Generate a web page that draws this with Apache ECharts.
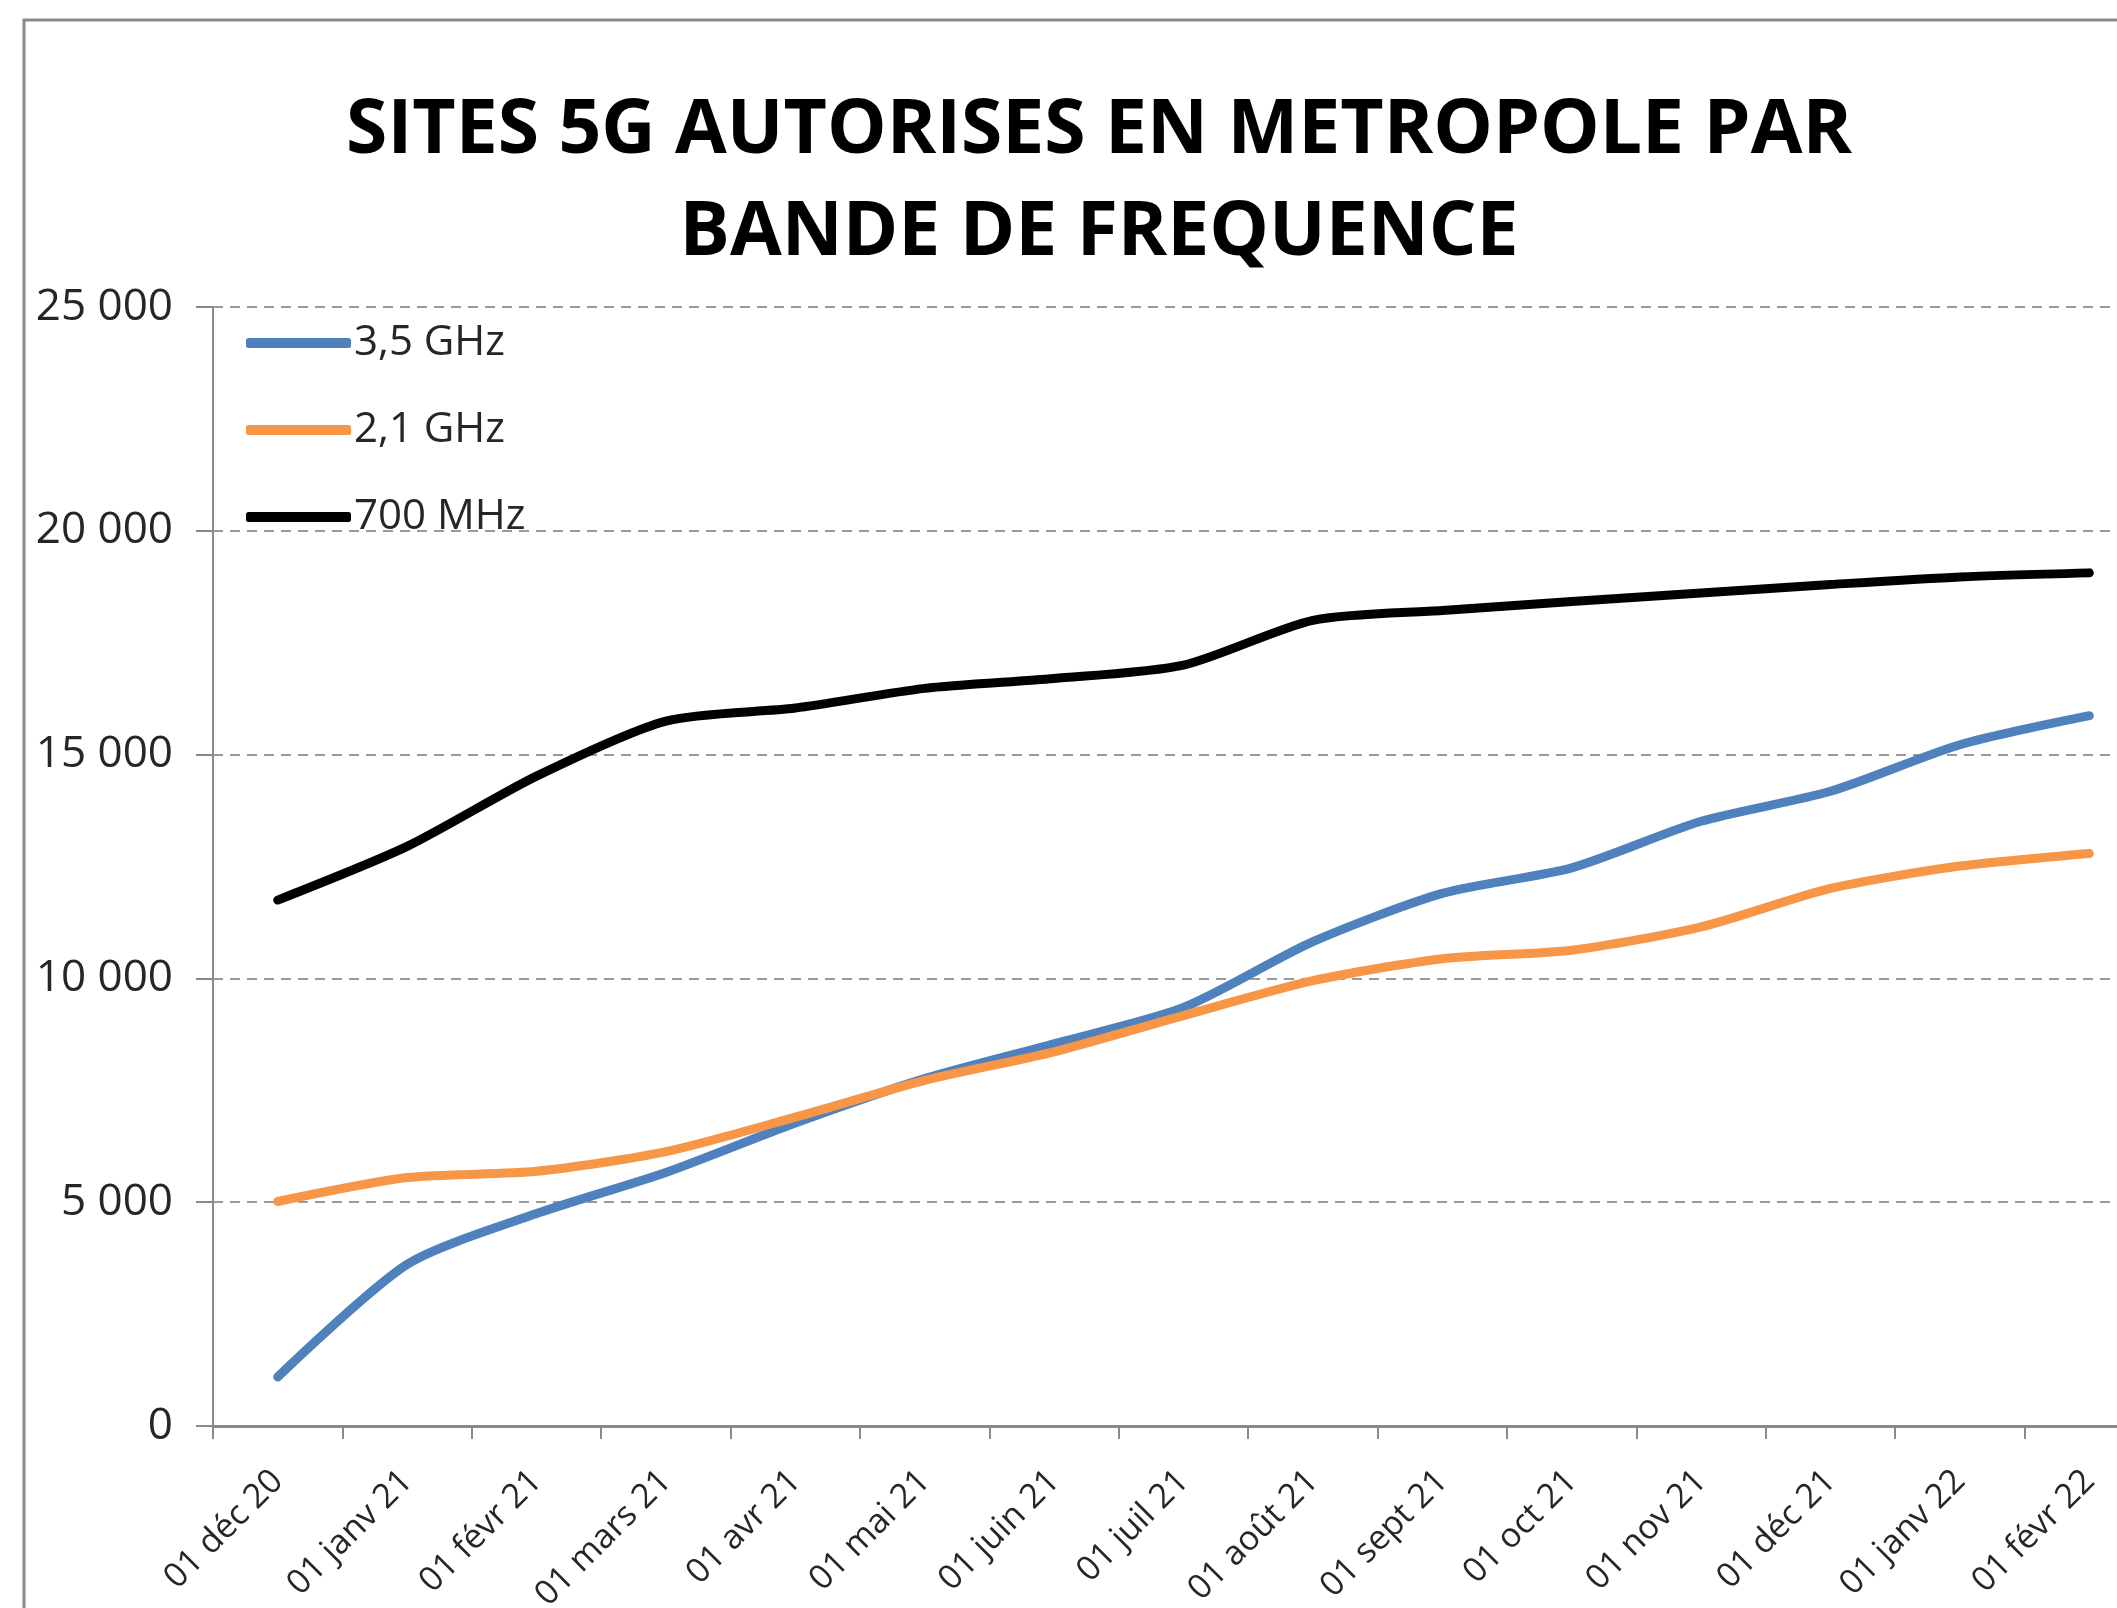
<!DOCTYPE html>
<html>
<head>
<meta charset="utf-8">
<script src="https://cdn.jsdelivr.net/npm/echarts@6/dist/echarts.min.js"></script>
<style>
html,body{margin:0;padding:0;background:#fff;}
#chart{width:2117px;height:1608px;}
</style>
</head>
<body>
<div id="chart"></div>
<script>
const titleLines = ['SITES 5G AUTORISES EN METROPOLE PAR', 'BANDE DE FREQUENCE'];
const categories = ['01 déc 20','01 janv 21','01 févr 21','01 mars 21','01 avr 21','01 mai 21','01 juin 21','01 juil 21','01 août 21','01 sept 21','01 oct 21','01 nov 21','01 déc 21','01 janv 22','01 févr 22'];
const seriesNames = ['3,5 GHz', '2,1 GHz', '700 MHz'];
const values35 = [1095, 3610, 4745, 5665, 6770, 7760, 8540, 9350, 10820, 11900, 12470, 13510, 14180, 15220, 15870];
const values21 = [5015, 5550, 5690, 6130, 6900, 7720, 8360, 9170, 9950, 10440, 10630, 11150, 12010, 12510, 12790];
const values700 = [11750, 12950, 14520, 15750, 16040, 16480, 16700, 17000, 18000, 18220, 18420, 18610, 18800, 18970, 19060];
const yTicks = [0, 5000, 10000, 15000, 20000, 25000];

const colors = ['#4F81BD', '#F79646', '#000000'];
const font = 'Open Sans';

const chart = echarts.init(document.getElementById('chart'), null, {renderer: 'canvas'});

function fmt(v){ return String(v).replace(/\B(?=(\d{3})+(?!\d))/g, ' '); }

const option = {
  backgroundColor: '#ffffff',
  animation: false,
  title: {
    text: titleLines.join('\n'),
    left: 1099,
    top: 81,
    textAlign: 'center',
    padding: 0,
    textStyle: {fontFamily: font, fontWeight: 'bold', fontSize: 75, lineHeight: 102, color: '#000'}
  },
  graphic: [{
    type: 'rect', silent: true, z: -1,
    shape: {x: 24, y: 20, width: 2300, height: 1800},
    style: {fill: 'none', stroke: '#8a8a8a', lineWidth: 3}
  }],
  legend: {
    orient: 'vertical',
    left: 241,
    top: 313,
    itemWidth: 105,
    itemHeight: 10,
    itemGap: 37,
    icon: 'roundRect',
    data: seriesNames,
    textStyle: {fontFamily: font, fontSize: 42, color: '#262626', lineHeight: 50, padding: [0,0,0,-2]}
  },
  grid: {left: 213, right: -37, top: 307, bottom: 182, containLabel: false, outerBoundsMode: 'none'},
  xAxis: {
    type: 'category',
    data: categories,
    boundaryGap: true,
    axisLine: {show: true, lineStyle: {color: '#8a8a8a', width: 3}},
    axisTick: {show: true, length: 13, alignWithLabel: false, lineStyle: {color: '#8a8a8a', width: 2}},
    axisLabel: {rotate: 45, margin: 50, fontFamily: font, fontSize: 34, color: '#262626', interval: 0},
    splitLine: {show: false}
  },
  yAxis: {
    type: 'value',
    min: yTicks[0],
    max: yTicks[yTicks.length - 1],
    interval: yTicks[1] - yTicks[0],
    axisLine: {show: true, lineStyle: {color: '#8a8a8a', width: 2}},
    axisTick: {show: true, length: 17, lineStyle: {color: '#8a8a8a', width: 2}},
    axisLabel: {margin: 40, fontFamily: font, fontSize: 44, color: '#262626', formatter: fmt},
    splitLine: {show: true, lineStyle: {color: '#9a9a9a', width: 2, type: [10, 7]}}
  },
  series: [
    {name: seriesNames[0], type: 'line', data: values35, smooth: 0.25, showSymbol: false, symbol: 'none',
     lineStyle: {color: colors[0], width: 9, cap: 'round', join: 'round'}, itemStyle: {color: colors[0]}},
    {name: seriesNames[1], type: 'line', data: values21, smooth: 0.25, showSymbol: false, symbol: 'none',
     lineStyle: {color: colors[1], width: 9, cap: 'round', join: 'round'}, itemStyle: {color: colors[1]}},
    {name: seriesNames[2], type: 'line', data: values700, smooth: 0.25, showSymbol: false, symbol: 'none',
     lineStyle: {color: colors[2], width: 9, cap: 'round', join: 'round'}, itemStyle: {color: colors[2]}}
  ]
};
chart.setOption(option);
</script>
</body>
</html>
